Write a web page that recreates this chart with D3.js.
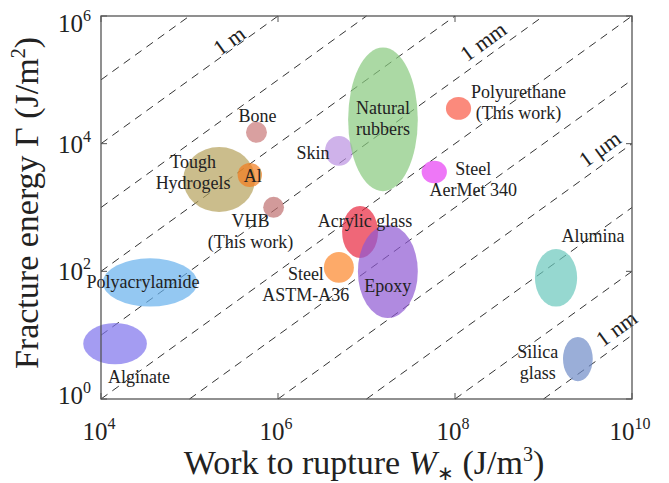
<!DOCTYPE html>
<html>
<head>
<meta charset="utf-8">
<script src="https://cdn.jsdelivr.net/npm/d3@7"></script>
<style>
  body { margin: 0; background: #fff; }
  text { font-family: "Liberation Serif", "Times New Roman", serif; fill: #222; }
</style>
</head>
<body>
<script>
// materials: ranges of work to rupture (J/m^3) and fracture energy (J/m^2)
const materials = ["Alginate", "Polyacrylamide", "Tough Hydrogels", "Al", "Bone", "VHB",
  "Skin", "Natural rubbers", "Polyurethane", "Steel AerMet 340", "Acrylic glass", "Epoxy",
  "Steel ASTM-A36", "Alumina", "Silica glass"];
const wLow  = [6.3e3, 1.05e4, 8.5e4, 3.5e5, 4.35e5, 6.8e5, 3.4e6, 6.2e6, 7.9e7, 4.2e7, 5.3e6, 8.0e6, 3.3e6, 8.0e8, 1.66e9];
const wHigh = [3.3e4, 1.22e5, 5.5e5, 6.6e5, 7.5e5, 1.17e6, 7.0e6, 3.8e7, 1.52e8, 8.1e7, 1.35e7, 3.8e7, 7.2e6, 2.4e9, 3.6e9];
const gLow  = [3.5, 28, 850, 2.1e3, 1.03e4, 690, 4.5e3, 1.8e3, 2.36e4, 2.4e3, 162, 18.6, 66, 28, 1.9];
const gHigh = [15.5, 160, 8.9e3, 5.0e3, 2.2e4, 1.47e3, 1.32e4, 3.2e5, 5.4e4, 5.4e3, 1.06e3, 533, 200, 224, 9.4];
const labelLines = [["Alginate"], ["Polyacrylamide"], ["Tough", "Hydrogels"], ["Al"], ["Bone"],
  ["VHB", "(This work)"], ["Skin"], ["Natural", "rubbers"], ["Polyurethane", "(This work)"],
  ["Steel", "AerMet 340"], ["Acrylic glass"], ["Epoxy"], ["Steel", "ASTM-A36"], ["Alumina"], ["Silica", "glass"]];

// length scale lines Γ = W·L, L = 10^e m
const lengthExps = [1, 0, -1, -2, -3, -4, -5, -6, -7, -8, -9];
const lengthLabels = ["1 m", "1 mm", "1 μm", "1 nm"];
const lengthLabelExps = [0, -3, -6, -9];
const lengthLabelW = [3.2e5, 2.6e8, 5.4e9, 8.3e9];

const xTicks = [1e4, 1e6, 1e8, 1e10];
const yTicks = [1, 1e2, 1e4, 1e6];

// styling / layout
const colors = ["#7d72ec", "#66b0ec", "#b5a15b", "#f27c1c", "#c97777", "#bf6f6f", "#ba92e1",
  "#88c97d", "#f95844", "#e73df4", "#e8273e", "#8e58d3", "#fc862a", "#69c7bc", "#6f8bc7"];
// label centre offset (px) from ellipse centre, for the first line
const labelOffset = [[24, 33], [-7, 0], [-26, -17], [3, 1], [1, -16], [-23, 14], [-26, 2],
  [0, -11], [60, -16], [39, -3], [5, -11], [0, 15], [-33, 7], [37, -42], [-40, -7]];
const lineGap = 21;
const lengthLabelGap = [1, 7, 7, 7];

const width = 669, height = 483;
const x = d3.scaleLog().domain([1e4, 1e10]).range([101, 632]);
const y = d3.scaleLog().domain([1, 1e6]).range([399, 16]);

const svg = d3.select("body").append("svg")
  .attr("width", width)
  .attr("height", height);

// dashed length-scale lines
const line = d3.line().x(d => x(d[0])).y(d => y(d[1]));
const lx = Math.log10;
lengthExps.forEach(e => {
  const a = Math.max(4, 0 - e), b = Math.min(10, 6 - e);
  const L = Math.pow(10, e);
  const pts = [[Math.pow(10, a), Math.pow(10, a) * L], [Math.pow(10, b), Math.pow(10, b) * L]];
  svg.append("path")
    .attr("d", line(pts))
    .attr("fill", "none")
    .attr("stroke", "#333")
    .attr("stroke-width", 1)
    .attr("stroke-dasharray", "8,6");
});

// material ellipses
const mats = materials.map((m, i) => ({
  name: m, i,
  cx: x(Math.sqrt(wLow[i] * wHigh[i])),
  cy: y(Math.sqrt(gLow[i] * gHigh[i])),
  rx: (x(wHigh[i]) - x(wLow[i])) / 2,
  ry: (y(gLow[i]) - y(gHigh[i])) / 2
}));

svg.selectAll("ellipse.mat").data(mats).enter().append("ellipse")
  .attr("class", "mat")
  .attr("cx", d => d.cx)
  .attr("cy", d => d.cy)
  .attr("rx", d => d.rx)
  .attr("ry", d => d.ry)
  .attr("fill", d => colors[d.i])
  .attr("fill-opacity", 0.7);

// material labels
mats.forEach(d => {
  const t = svg.append("text")
    .attr("text-anchor", "middle")
    .attr("font-size", 18);
  labelLines[d.i].forEach((s, k) => {
    t.append("tspan")
      .attr("x", d.cx + labelOffset[d.i][0])
      .attr("y", d.cy + labelOffset[d.i][1] + k * lineGap + 6)
      .text(s);
  });
});

// length labels
const ang = -Math.atan2(y(1) - y(10), x(10) - x(1)) * 180 / Math.PI;
lengthLabels.forEach((s, k) => {
  const W = lengthLabelW[k];
  const px = x(W), py = y(W * Math.pow(10, lengthLabelExps[k]));
  svg.append("text")
    .attr("transform", `translate(${px},${py}) rotate(${ang}) translate(0,${-lengthLabelGap[k]})`)
    .attr("text-anchor", "middle")
    .attr("font-size", 22)
    .text(s);
});

// frame
svg.append("rect")
  .attr("x", 101).attr("y", 16)
  .attr("width", 632 - 101).attr("height", 399 - 16)
  .attr("fill", "none")
  .attr("stroke", "#555")
  .attr("stroke-width", 1.3);

// inward ticks on all sides
const tk = 6;
xTicks.forEach(v => {
  svg.append("line").attr("x1", x(v)).attr("x2", x(v)).attr("y1", 399).attr("y2", 399 - tk).attr("stroke", "#555");
  svg.append("line").attr("x1", x(v)).attr("x2", x(v)).attr("y1", 16).attr("y2", 16 + tk).attr("stroke", "#555");
});
yTicks.forEach(v => {
  svg.append("line").attr("x1", 101).attr("x2", 101 + tk).attr("y1", y(v)).attr("y2", y(v)).attr("stroke", "#555");
  svg.append("line").attr("x1", 632).attr("x2", 632 - tk).attr("y1", y(v)).attr("y2", y(v)).attr("stroke", "#555");
});

// tick labels
function powLabel(sel, v) {
  sel.append("tspan").text("10");
  sel.append("tspan").attr("font-size", 16).attr("dy", -11).text(Math.round(lx(v)));
}
xTicks.forEach(v => {
  const t = svg.append("text")
    .attr("x", x(v) - 2).attr("y", 440)
    .attr("text-anchor", "middle")
    .attr("font-size", 25);
  powLabel(t, v);
});
yTicks.forEach((v, k) => {
  const shift = k === 0 ? -4 : (k === yTicks.length - 1 ? 7 : 0);
  const t = svg.append("text")
    .attr("x", 91).attr("y", y(v) + 9 + shift)
    .attr("text-anchor", "end")
    .attr("font-size", 25);
  powLabel(t, v);
});

// axis titles
const xt = svg.append("text")
  .attr("x", 364).attr("y", 474)
  .attr("text-anchor", "middle")
  .attr("font-size", 34);
xt.append("tspan").text("Work to rupture ");
xt.append("tspan").attr("font-style", "italic").text("W");
xt.append("tspan").attr("font-size", 20).attr("dy", 6).text("∗");
xt.append("tspan").attr("dy", -6).text(" (J/m");
xt.append("tspan").attr("font-size", 20).attr("dy", -13).text("3");
xt.append("tspan").attr("dy", 13).text(")");

const yt = svg.append("text")
  .attr("transform", "translate(38,203) rotate(-90)")
  .attr("text-anchor", "middle")
  .attr("font-size", 34);
yt.append("tspan").text("Fracture energy Γ (J/m");
yt.append("tspan").attr("font-size", 20).attr("dy", -13).text("2");
yt.append("tspan").attr("dy", 13).text(")");
</script>
</body>
</html>
